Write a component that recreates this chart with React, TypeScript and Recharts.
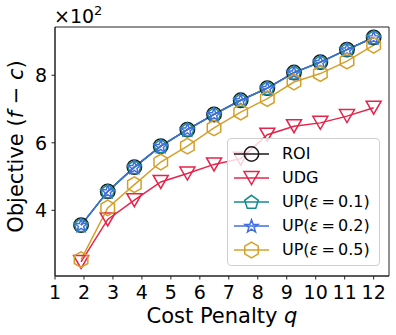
import React from 'react';
import { LineChart, Line, XAxis, YAxis, Label, ReferenceArea } from 'recharts';

// cost penalty q (x positions of the points)
const qValues = [1.9, 2.82, 3.74, 4.65, 5.57, 6.49, 7.41, 8.33, 9.25, 10.16, 11.08, 12.0];
const xTicks = [1, 2, 3, 4, 5, 6, 7, 8, 9, 10, 11, 12];
const yTicks = [400, 600, 800];

// objective values (f - c)
const roiValues = [356, 456, 528, 590, 639, 684, 726, 762, 808, 839, 876, 912];
const udgValues = [247, 373, 430, 484, 509, 536, 553, 624, 649, 659, 679, 704];
const up01Values = [356, 456, 528, 590, 639, 684, 726, 762, 808, 839, 876, 912];
const up02Values = [356, 456, 528, 590, 639, 684, 726, 762, 808, 839, 876, 912];
const up05Values = [254, 407, 476, 543, 590, 644, 691, 731, 780, 805, 842, 889];

const X_DOMAIN: [number, number] = [1, 12.53];
const Y_DOMAIN: [number, number] = [205.4, 943];
const FONT = '"DejaVu Sans", sans-serif';

const data = qValues.map((q, i) => ({
  q,
  roi: roiValues[i],
  udg: udgValues[i],
  up01: up01Values[i],
  up02: up02Values[i],
  up05: up05Values[i],
}));

type Shape = 'circle' | 'triangle' | 'pentagon' | 'star' | 'hexagon';

const polyPoints = (cx: number, cy: number, r: number, n: number, rInner?: number) => {
  const pts: string[] = [];
  const total = rInner ? n * 2 : n;
  for (let i = 0; i < total; i++) {
    const rad = rInner && i % 2 === 1 ? rInner : r;
    const a = -Math.PI / 2 + (i * 2 * Math.PI) / total;
    pts.push(`${cx + rad * Math.cos(a)},${cy + rad * Math.sin(a)}`);
  }
  return pts.join(' ');
};

const Marker: React.FC<{ shape: Shape; cx: number; cy: number; color: string }> = ({ shape, cx, cy, color }) => {
  const common = { fill: 'none', stroke: color, strokeWidth: 1.5 };
  if (shape === 'circle') return <circle cx={cx} cy={cy} r={7.2} {...common} />;
  if (shape === 'triangle')
    return <polygon points={`${cx - 7.5},${cy - 6.5} ${cx + 7.5},${cy - 6.5} ${cx},${cy + 6.5}`} {...common} />;
  if (shape === 'pentagon') return <polygon points={polyPoints(cx, cy + 0.5, 7.2, 5)} {...common} />;
  if (shape === 'star') return <polygon points={polyPoints(cx, cy + 0.5, 6.8, 5, 2.7)} {...common} />;
  return <polygon points={polyPoints(cx, cy, 7.8, 6)} {...common} />;
};

const series = [
  { key: 'roi', name: 'ROI', eps: '', color: '#1a1a1a', shape: 'circle' as Shape },
  { key: 'udg', name: 'UDG', eps: '', color: '#e8234a', shape: 'triangle' as Shape },
  { key: 'up01', name: 'UP', eps: '0.1', color: '#168a8a', shape: 'pentagon' as Shape },
  { key: 'up02', name: 'UP', eps: '0.2', color: '#3f6fe0', shape: 'star' as Shape },
  { key: 'up05', name: 'UP', eps: '0.5', color: '#d4a02a', shape: 'hexagon' as Shape },
];

const makeDot = (shape: Shape, color: string) => (props: any) => {
  const { cx, cy, index } = props;
  return <Marker key={`${shape}-${index}`} shape={shape} cx={cx} cy={cy} color={color} />;
};

const LegendBox: React.FC = () => (
  <div
    style={{
      position: 'absolute',
      left: 227,
      top: 138,
      width: 153,
      height: 128,
      boxSizing: 'border-box',
      border: '1px solid #cfcfcf',
      borderRadius: 4,
      background: 'rgba(255,255,255,0.8)',
      fontFamily: FONT,
      fontSize: 16,
      color: '#000',
    }}
  >
    {series.map((s, i) => (
      <div key={s.key} style={{ position: 'absolute', left: 0, top: 3 + i * 24, height: 24, display: 'flex', alignItems: 'center' }}>
        <svg width={50} height={24} style={{ display: 'block' }}>
          <line x1={6} y1={12} x2={41} y2={12} stroke={s.color} strokeWidth={1.5} />
          <Marker shape={s.shape} cx={23.5} cy={12} color={s.color} />
        </svg>
        <span style={{ marginLeft: 4, whiteSpace: 'pre', lineHeight: '24px' }}>
          {s.eps ? (
            <>
              {s.name}(<i>ε</i>{'\u2009'}={'\u2009'}{s.eps})
            </>
          ) : (
            s.name
          )}
        </span>
      </div>
    ))}
  </div>
);

export default function App() {
  return (
    <div style={{ position: 'absolute', left: 0, top: 0, width: 396, height: 335, background: '#fff' }}>
      <LineChart
        width={396}
        height={335}
        data={data}
        margin={{ top: 27, right: 7, bottom: 29, left: 0 }}
        style={{ fontFamily: FONT }}
      >
        <XAxis
          dataKey="q"
          type="number"
          domain={X_DOMAIN}
          allowDataOverflow
          ticks={xTicks}
          interval={0}
          height={30}
          tickSize={3.5}
          tickMargin={6}
          tick={{ fontSize: 19, fill: '#000' }}
          stroke="#222"
          tickLine={{ stroke: '#222' }}
        >
          <Label
            content={(p: any) => {
              const vb = p.viewBox;
              return (
                <text x={vb.x + vb.width / 2} y={323} textAnchor="middle" fontSize={21} fill="#000" fontFamily={FONT}>
                  Cost Penalty <tspan fontStyle="italic">q</tspan>
                </text>
              );
            }}
          />
        </XAxis>
        <YAxis
          type="number"
          domain={Y_DOMAIN}
          allowDataOverflow
          ticks={yTicks}
          width={55}
          tickSize={3.5}
          tickMargin={4.5}
          tick={{ fontSize: 19, fill: '#000' }}
          tickFormatter={(v: number) => String(v / 100)}
          stroke="#222"
          tickLine={{ stroke: '#222' }}
        >
          <Label
            content={(p: any) => {
              const vb = p.viewBox;
              const cy = vb.y + vb.height / 2 - 5;
              return (
                <text x={23} y={cy} transform={`rotate(-90, 23, ${cy})`} textAnchor="middle" fontSize={21} fill="#000" fontFamily={FONT}>
                  Objective (<tspan fontStyle="italic">f</tspan> − <tspan fontStyle="italic">c</tspan>)
                </text>
              );
            }}
          />
          <Label
            content={(p: any) => {
              const vb = p.viewBox;
              return (
                <text x={vb.x + vb.width - 1} y={23} fontSize={19} fill="#000" fontFamily={FONT}>
                  ×10<tspan fontSize={13} dy={-8}>2</tspan>
                </text>
              );
            }}
          />
        </YAxis>
        {/* plot frame */}
        <ReferenceArea
          x1={X_DOMAIN[0]}
          x2={X_DOMAIN[1]}
          y1={Y_DOMAIN[0]}
          y2={Y_DOMAIN[1]}
          fill="none"
          fillOpacity={0}
          stroke="#222"
          strokeWidth={1}
          ifOverflow="visible"
        />
        {series.map((s) => (
          <Line
            key={s.key}
            dataKey={s.key}
            name={s.name}
            stroke={s.color}
            strokeWidth={1.5}
            type="linear"
            dot={makeDot(s.shape, s.color)}
            activeDot={false}
            isAnimationActive={false}
          />
        ))}
      </LineChart>
      <LegendBox />
    </div>
  );
}
